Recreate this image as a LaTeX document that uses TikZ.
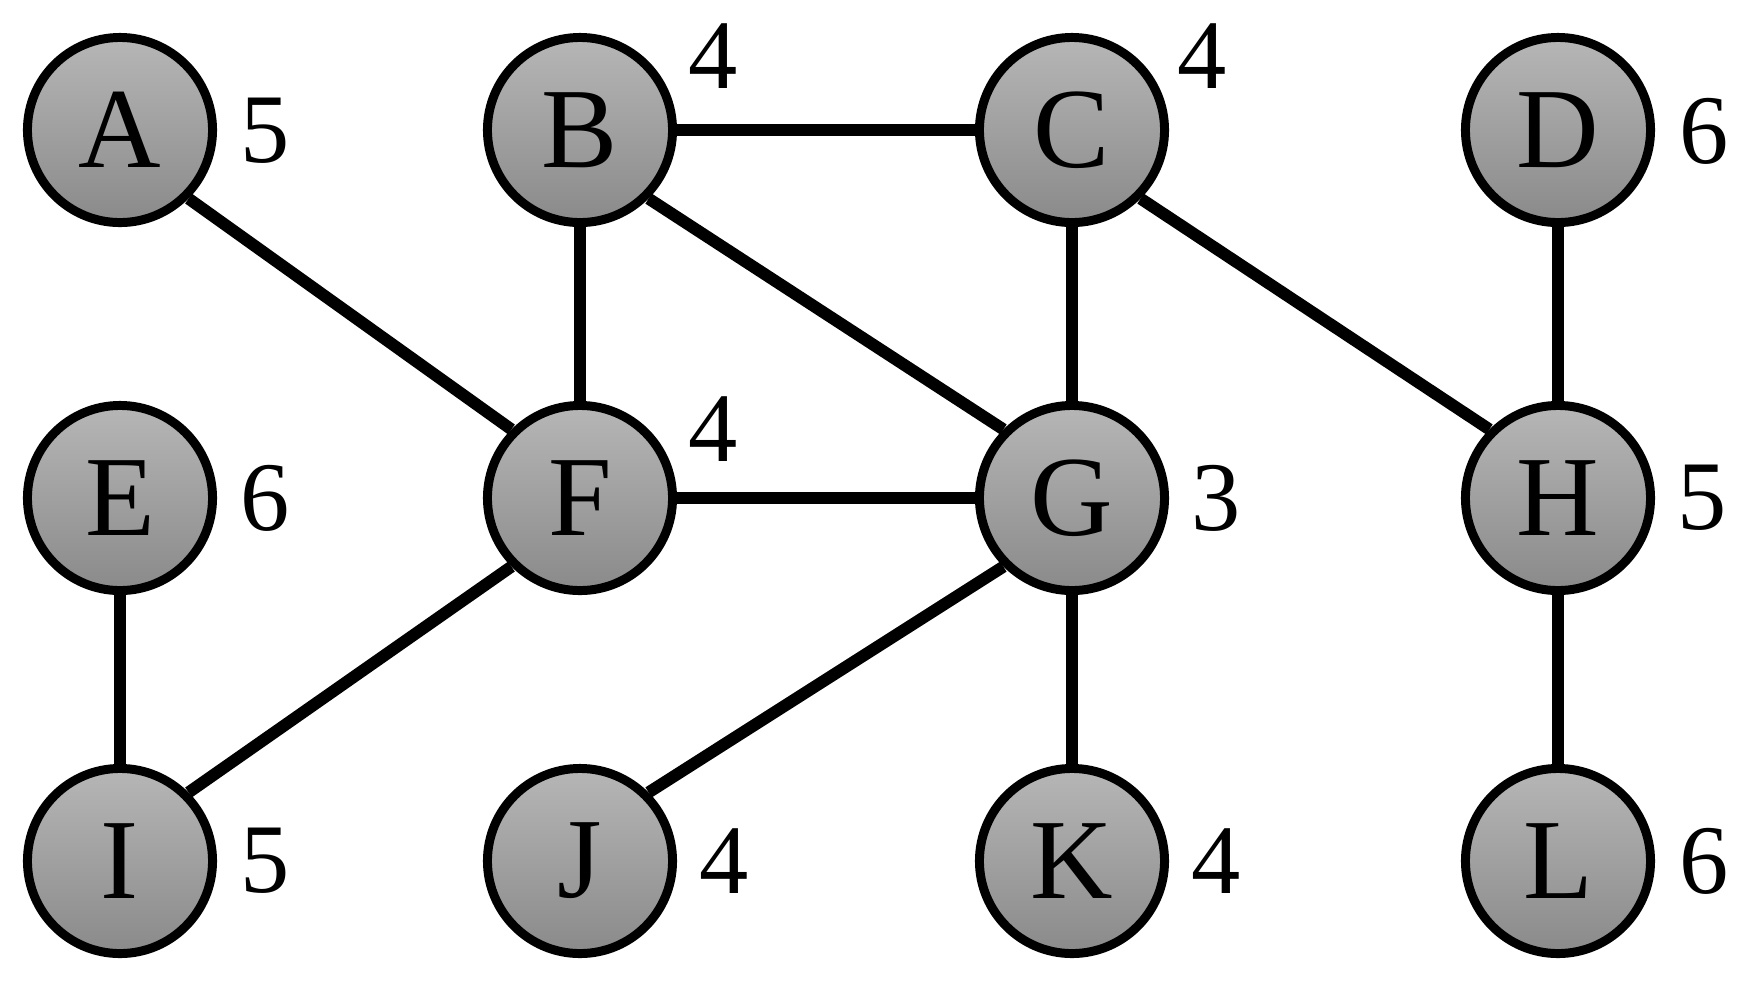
\documentclass[tikz,border=0pt]{standalone}
\usepackage{fontspec}
\setmainfont{Liberation Serif}
\usepackage{tikz}
\usetikzlibrary{positioning}

\definecolor{vtop}{RGB}{182,182,182}
\definecolor{vbot}{RGB}{138,138,138}

\begin{document}
\begin{tikzpicture}[x=0.01cm, y=-0.01cm,
vtx/.style={circle, draw=black, line width=2.55pt, top color=vtop, bottom color=vbot, minimum size=1.85cm, inner sep=0pt, font=\fontsize{32.5}{32.5}\selectfont},
deg/.style={font=\fontsize{28}{28}\selectfont, inner sep=0pt},
edge/.style={line width=3.4pt},]

\useasboundingbox (0,0) rectangle (1747,990);

\node[vtx] (A) at (120,130) {A};
\node[vtx] (B) at (580,130) {B};
\node[vtx] (C) at (1072,130) {C};
\node[vtx] (D) at (1558,130) {D};

\node[vtx] (E) at (120,498) {E};
\node[vtx] (F) at (580,498) {F};
\node[vtx] (G) at (1072,498) {G};
\node[vtx] (H) at (1558,498) {H};

\node[vtx] (I) at (120,861) {I};
\node[vtx] (J) at (580,861) {J};
\node[vtx] (K) at (1072,861) {K};
\node[vtx] (L) at (1558,861) {L};

% degrees
\node[deg] (dA) at (265,131) {5};
\node[deg] (dB) at (713,56) {4};
\node[deg] (dC) at (1202,56) {4};
\node[deg] (dD) at (1704,131) {6};
\node[deg] (dE) at (265,498) {6};
\node[deg] (dF) at (713,429) {4};
\node[deg] (dG) at (1216,498) {3};
\node[deg] (dH) at (1702,498) {5};
\node[deg] (dI) at (265,861) {5};
\node[deg] (dJ) at (724,861) {4};
\node[deg] (dK) at (1216,861) {4};
\node[deg] (dL) at (1704,861) {6};

\draw[edge] (A.south east) -- (F.north west);
\draw[edge] (B.east) -- (C.west);
\draw[edge] (B.south) -- (F.north);
\draw[edge] (B.south east) -- (G.north west);
\draw[edge] (C.south) -- (G.north);
\draw[edge] (C.south east) -- (H.north west);
\draw[edge] (D.south) -- (H.north);
\draw[edge] (E.south) -- (I.north);
\draw[edge] (F.east) -- (G.west);
\draw[edge] (F.south west) -- (I.north east);
\draw[edge] (G.south west) -- (J.north east);
\draw[edge] (G.south) -- (K.north);
\draw[edge] (H.south) -- (L.north);

\end{tikzpicture}
\end{document}
